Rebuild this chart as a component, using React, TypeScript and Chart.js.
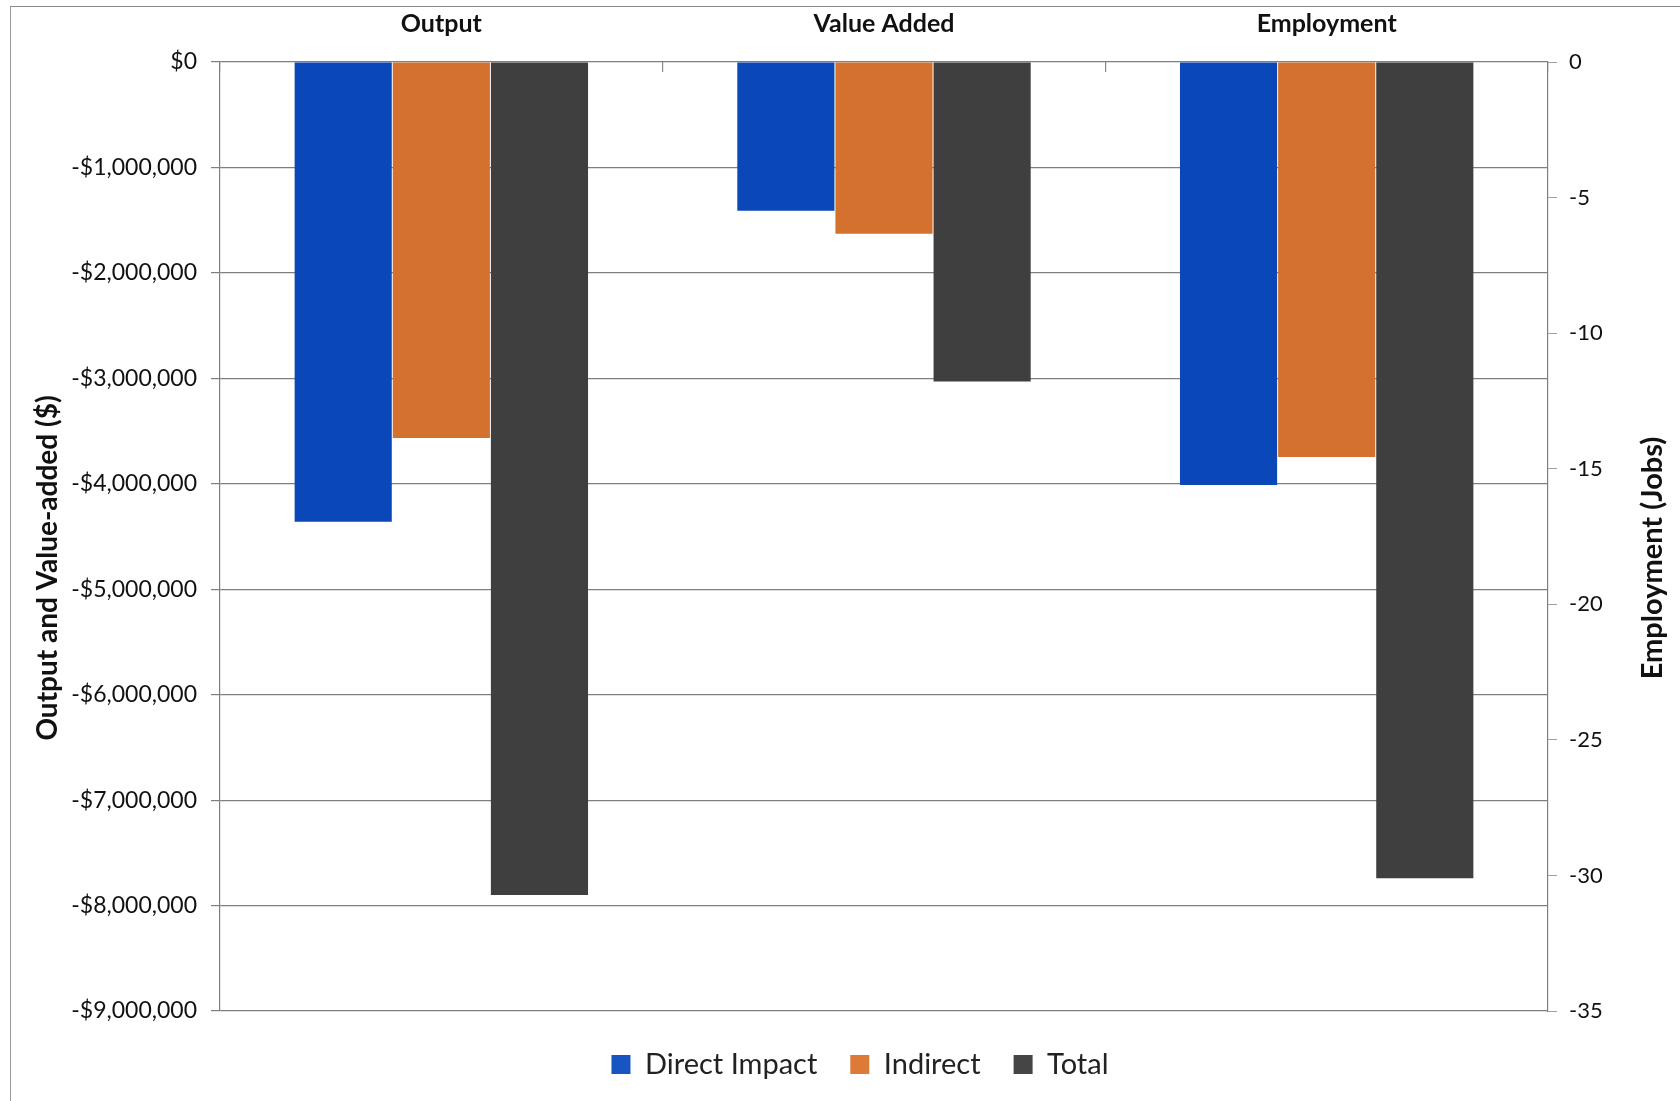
import React, { useEffect, useRef } from "react";
import { Chart, registerables } from "chart.js";

Chart.register(...registerables);

const categories = ["Output", "Value Added", "Employment"];
const seriesNames = ["Direct Impact", "Indirect", "Total"];
const directDollars = [-4360000, -1410000, null];
const indirectDollars = [-3565000, -1630000, null];
const totalDollars = [-7900000, -3030000, null];
const directJobs = [null, null, -15.6];
const indirectJobs = [null, null, -14.57];
const totalJobs = [null, null, -30.1];
const dollarTicks = [0, -1000000, -2000000, -3000000, -4000000, -5000000, -6000000, -7000000, -8000000, -9000000];
const jobTicks = [0, -5, -10, -15, -20, -25, -30, -35];
const leftTitle = "Output and Value-added ($)";
const rightTitle = "Employment (Jobs)";

const colors = ["#0A47B8", "#D5712E", "#3F3F3F"];
const legendColors = ["#1655C2", "#DE7A38", "#454545"];
const FONT = "Lato, 'Open Sans', sans-serif";

const fmtDollar = (v: number) => {
  const abs = Math.abs(v).toLocaleString("en-US");
  return (v < 0 ? "-$" : "$") + abs;
};

export default function App() {
  const ref = useRef<HTMLCanvasElement | null>(null);
  useEffect(() => {
    if (!ref.current) return;
    const axisTitles = {
      id: "axisTitles",
      afterDraw(chart: any) {
        const { ctx } = chart;
        const draw = (text: string, x: number, y: number, size: number) => {
          ctx.save();
          ctx.font = `bold ${size}px ${FONT}`;
          ctx.fillStyle = "#111";
          ctx.textAlign = "center";
          ctx.textBaseline = "middle";
          ctx.translate(x, y);
          ctx.rotate(-Math.PI / 2);
          ctx.fillText(text, 0, 0);
          ctx.restore();
        };
        draw(leftTitle, 48, 568, 28);
        draw(rightTitle, 1653, 558, 29);
      },
    };
    const chart = new Chart(ref.current, {
      type: "bar",
      data: {
        labels: categories,
        datasets: [
          { label: seriesNames[0], data: directDollars, backgroundColor: colors[0], yAxisID: "y" },
          { label: seriesNames[1], data: indirectDollars, backgroundColor: colors[1], yAxisID: "y" },
          { label: seriesNames[2], data: totalDollars, backgroundColor: colors[2], yAxisID: "y" },
          { label: seriesNames[0] + " (jobs)", data: directJobs, backgroundColor: colors[0], yAxisID: "y2" },
          { label: seriesNames[1] + " (jobs)", data: indirectJobs, backgroundColor: colors[1], yAxisID: "y2" },
          { label: seriesNames[2] + " (jobs)", data: totalJobs, backgroundColor: colors[2], yAxisID: "y2" },
        ] as any,
      },
      options: {
        animation: false,
        responsive: false,
        maintainAspectRatio: false,
        skipNull: true,
        barPercentage: 0.99,
        categoryPercentage: 0.665,
        layout: { padding: { left: 40, right: 0, top: 0, bottom: 12 } },
        plugins: {
          tooltip: { enabled: false },
          legend: {
            position: "bottom",
            title: { display: true, text: "", font: { size: 5 }, padding: 0 },
            labels: {
              generateLabels: () =>
                seriesNames.map((n, i) => ({
                  text: n,
                  fillStyle: legendColors[i],
                  strokeStyle: legendColors[i],
                  lineWidth: 0,
                  datasetIndex: i,
                  hidden: false,
                  fontColor: "#222",
                })),
              boxWidth: 19,
              boxHeight: 19,
              padding: 33,
              color: "#222",
              font: { family: FONT, size: 29 },
            },
          },
        } as any,
        scales: {
          x: {
            position: "top",
            grid: { display: true, drawOnChartArea: false, drawTicks: true, tickLength: -10, color: "#8a8a8a", lineWidth: 1.2 },
            border: { display: false },
            ticks: { color: "#111", font: { family: FONT, size: 25, weight: "bold" }, padding: 33 },
            afterFit: (s: any) => { s.height = 62; },
          },
          y: {
            position: "left",
            min: -9000000,
            max: 0,
            afterBuildTicks: (s: any) => { s.ticks = dollarTicks.map((v) => ({ value: v })); },
            ticks: {
              color: "#111",
              font: { family: FONT, size: 23 },
              padding: 14,
              callback: (v: any) => fmtDollar(Number(v)),
            },
            grid: { color: "#7f7f7f", lineWidth: 1.2, tickLength: 9 },
            border: { display: true, color: "#7f7f7f", width: 1.2 },
            afterFit: (s: any) => { s.width = 180; },
          },
          y2: {
            position: "right",
            min: -35,
            max: 0,
            afterBuildTicks: (s: any) => { s.ticks = jobTicks.map((v) => ({ value: v })); },
            ticks: {
              color: "#111",
              font: { family: FONT, size: 22 },
              padding: 12,
              callback: (v: any) => String(v),
            },
            grid: { drawOnChartArea: false, color: "#a0a0a0", tickLength: 9 },
            border: { display: true, color: "#7f7f7f", width: 1.2 },
            afterFit: (s: any) => { s.width = 132; },
          },
        },
      } as any,
      plugins: [axisTitles],
    });
    return () => chart.destroy();
  }, []);

  return (
    <div style={{ position: "absolute", left: 0, top: 0, width: 1680, height: 1101, background: "#fff", overflow: "hidden" }}>
      <div style={{ position: "absolute", left: 10, top: 6, width: 1670, height: 1095, borderLeft: "1px solid #9a9a9a", borderTop: "1px solid #8a8a8a" }} />
      <canvas ref={ref} width={1680} height={1101} style={{ position: "absolute", left: 0, top: 0, width: 1680, height: 1101 }} />
    </div>
  );
}
